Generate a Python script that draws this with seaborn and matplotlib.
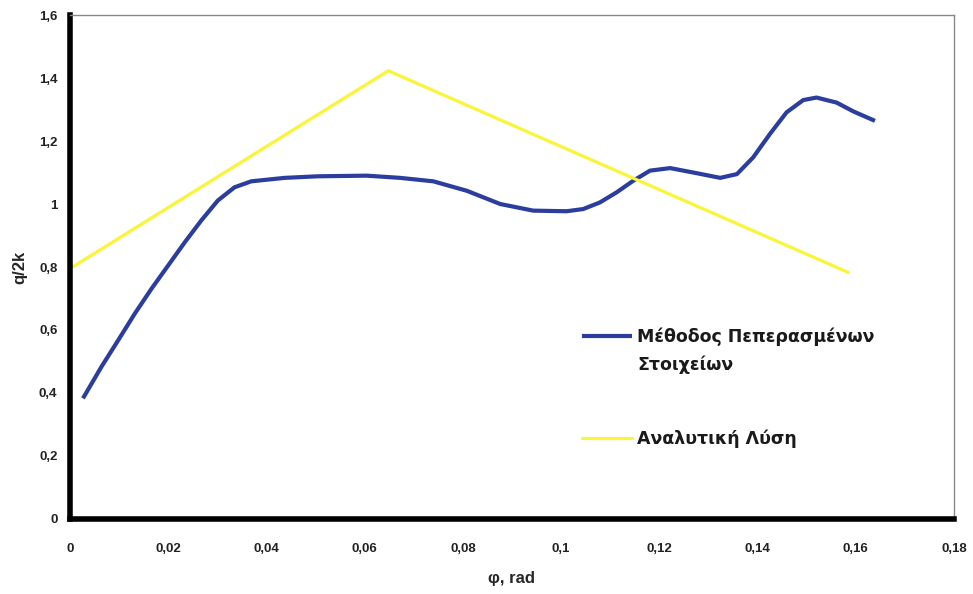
import matplotlib
matplotlib.use("Agg")
import matplotlib.pyplot as plt
import seaborn as sns
import pandas as pd
import numpy as np
from matplotlib.ticker import FuncFormatter, MultipleLocator
from matplotlib.legend_handler import HandlerLine2D

# Finite element method
fem_phi = [0.00265, 0.0064, 0.0098, 0.0132, 0.0166, 0.0200, 0.0234, 0.0267, 0.0301,
           0.0335, 0.0369, 0.0437, 0.0505, 0.0604, 0.0672, 0.0740, 0.0808, 0.0876,
           0.0943, 0.1011, 0.1045, 0.1079, 0.1113, 0.1147, 0.1181, 0.1222, 0.1269,
           0.1324, 0.1358, 0.1391, 0.1425, 0.1459, 0.1493, 0.1520, 0.1561, 0.1595,
           0.1639]
fem_q = [0.383, 0.483, 0.567, 0.652, 0.731, 0.805, 0.879, 0.947, 1.011,
         1.053, 1.072, 1.083, 1.088, 1.090, 1.083, 1.072, 1.042, 1.000,
         0.979, 0.977, 0.984, 1.005, 1.037, 1.074, 1.106, 1.114, 1.100,
         1.083, 1.095, 1.148, 1.222, 1.291, 1.330, 1.338, 1.322, 1.294,
         1.264]

# Analytical solution
ana_phi = [0.0, 0.0648, 0.1584]
ana_q = [0.795, 1.423, 0.783]

label_fem = "Μέθοδος Πεπερασμένων\nΣτοιχείων"
label_ana = "Αναλυτική Λύση"

sns.set_style("white")
plt.rcParams['font.family'] = ['Liberation Sans', 'DejaVu Sans']


class TopAlignedHandler(HandlerLine2D):
    def __init__(self, shift=0.0, **kw):
        super().__init__(**kw)
        self.shift = shift

    def create_artists(self, legend, orig_handle, xdescent, ydescent, width,
                       height, fontsize, trans):
        arts = super().create_artists(legend, orig_handle, xdescent, ydescent,
                                      width, height, fontsize, trans)
        for a in arts:
            a.set_ydata(np.asarray(a.get_ydata()) + self.shift)
        return arts


fig = plt.figure(figsize=(9.73, 5.94), dpi=100)
ax = fig.add_axes([0.0719, 0.1263, 0.9086, 0.8484])

df_fem = pd.DataFrame({"phi": fem_phi, "q": fem_q})
df_ana = pd.DataFrame({"phi": ana_phi, "q": ana_q})

sns.lineplot(data=df_fem, x="phi", y="q", ax=ax, color="#2b3d9e", lw=3.0,
             sort=False, estimator=None, label=label_fem,
             solid_joinstyle="round", solid_capstyle="butt")
sns.lineplot(data=df_ana, x="phi", y="q", ax=ax, color="#fbf53a", lw=2.3,
             sort=False, estimator=None, label=label_ana)

ax.set_xlim(0, 0.18)
ax.set_ylim(0, 1.6)
ax.xaxis.set_major_locator(MultipleLocator(0.02))
ax.yaxis.set_major_locator(MultipleLocator(0.2))

def fmt(v, pos):
    s = f"{v:.2f}".rstrip("0").rstrip(".")
    return s.replace(".", ",")

ax.xaxis.set_major_formatter(FuncFormatter(fmt))
ax.yaxis.set_major_formatter(FuncFormatter(fmt))

for side in ["left", "bottom"]:
    ax.spines[side].set_color("black")
    ax.spines[side].set_linewidth(4)
for side in ["top", "right"]:
    ax.spines[side].set_color("#888888")
    ax.spines[side].set_linewidth(1)

ax.tick_params(axis="both", which="major", length=3, width=1, direction="out",
               color="#333333", labelsize=9.5, pad=6)
for lab in ax.get_xticklabels() + ax.get_yticklabels():
    lab.set_fontweight("bold")
    lab.set_color("#222222")
ax.tick_params(axis="x", pad=14)

ax.set_xlabel("φ, rad", fontsize=12, fontweight="bold", labelpad=12)
ax.set_ylabel("q/2k", fontsize=12, fontweight="bold", labelpad=8)

handles, labels = ax.get_legend_handles_labels()
leg = ax.legend(handles, labels, loc="upper left", bbox_to_anchor=(0.561, 0.41),
                frameon=False, handlelength=2.9, handletextpad=0.3,
                labelspacing=3.2,
                prop={"family": "DejaVu Sans", "size": 12.5, "weight": "bold"},
                handler_map={handles[0]: TopAlignedHandler(shift=11.5)})
for t in leg.get_texts():
    t.set_linespacing(1.65)
    t.set_color("#1a1a1a")

fig.savefig("out.png", dpi=100, facecolor="white")
